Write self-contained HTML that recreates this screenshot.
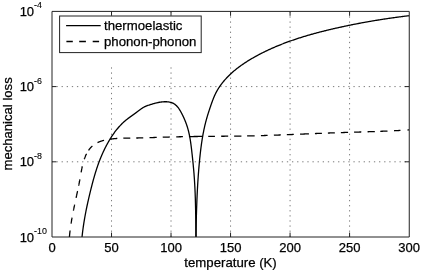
<!DOCTYPE html>
<html><head><meta charset="utf-8"><style>
html,body{margin:0;padding:0;background:#fff;width:422px;height:270px;overflow:hidden}
svg{display:block}
</style></head><body>
<svg width="422" height="270" viewBox="0 0 422 270">
<rect x="0" y="0" width="422" height="270" fill="#fff"/>
<g stroke="#7a7a7a" stroke-width="1" stroke-dasharray="1.3 3.8" stroke-dashoffset="0.15" fill="none"><line x1="111.52" y1="11.4" x2="111.52" y2="237.0"/><line x1="171.03" y1="11.4" x2="171.03" y2="237.0"/><line x1="230.55" y1="11.4" x2="230.55" y2="237.0"/><line x1="290.07" y1="11.4" x2="290.07" y2="237.0"/><line x1="349.58" y1="11.4" x2="349.58" y2="237.0"/></g>
<g stroke="#7a7a7a" stroke-width="1" stroke-dasharray="1.3 3.82" stroke-dashoffset="0.65" fill="none"><line x1="52.0" y1="86.60" x2="409.1" y2="86.60"/><line x1="52.0" y1="161.80" x2="409.1" y2="161.80"/></g>
<path d="M111.52,237.0V232.6M111.52,11.4V15.8M171.03,237.0V232.6M171.03,11.4V15.8M230.55,237.0V232.6M230.55,11.4V15.8M290.07,237.0V232.6M290.07,11.4V15.8M349.58,237.0V232.6M349.58,11.4V15.8M52.0,86.60H56.4M409.1,86.60H404.70000000000005M52.0,161.80H56.4M409.1,161.80H404.70000000000005" stroke="#222" stroke-width="1.0" fill="none"/>
<path d="M69.43,236.92 69.44,236.74 69.46,236.46 69.49,236.19 69.51,235.91 69.54,235.63 69.56,235.35 69.59,235.08 69.62,234.80 69.64,234.52 69.67,234.25 69.70,233.97 69.72,233.69 69.75,233.42 69.78,233.14 69.81,232.87 69.84,232.59 69.87,232.31 69.90,232.04 69.93,231.76 69.97,231.49 70.00,231.21 70.03,230.94 70.06,230.66 70.08,230.49 M71.02,223.72 71.05,223.55 71.09,223.27 71.14,223.00 71.18,222.73 71.22,222.46 71.27,222.18 71.31,221.91 71.36,221.64 71.40,221.37 71.45,221.10 71.49,220.82 71.54,220.55 71.58,220.28 71.63,220.01 71.68,219.74 71.72,219.47 71.77,219.20 71.82,218.92 71.87,218.65 71.91,218.38 71.96,218.11 72.01,217.84 72.04,217.67 M73.37,210.72 73.40,210.54 73.46,210.28 73.51,210.01 73.57,209.74 73.62,209.47 73.68,209.20 73.73,208.93 73.79,208.66 73.84,208.39 73.90,208.12 73.95,207.85 74.01,207.58 74.07,207.31 74.12,207.04 74.18,206.77 74.23,206.50 74.29,206.24 74.35,205.97 74.40,205.70 74.46,205.43 74.52,205.16 74.57,204.89 74.61,204.72 M76.10,197.80 76.13,197.63 76.19,197.36 76.25,197.09 76.31,196.83 76.37,196.56 76.42,196.29 76.48,196.02 76.54,195.75 76.60,195.48 76.66,195.21 76.71,194.94 76.77,194.67 76.83,194.41 76.89,194.14 76.95,193.87 77.00,193.60 77.06,193.33 77.12,193.06 77.18,192.79 77.23,192.52 77.29,192.25 77.35,191.98 77.41,191.71 77.46,191.44 77.52,191.18 77.56,191.00 M78.66,185.68 78.70,185.51 78.75,185.24 78.81,184.97 78.86,184.70 78.92,184.43 78.97,184.16 79.02,183.89 79.08,183.62 79.13,183.35 79.18,183.08 79.24,182.81 79.29,182.54 79.34,182.27 79.40,182.00 79.45,181.72 79.50,181.45 79.55,181.18 79.60,180.91 79.66,180.64 79.71,180.37 79.76,180.10 79.81,179.83 79.86,179.55 79.89,179.38 M81.13,172.38 81.16,172.20 81.21,171.93 81.26,171.66 81.31,171.38 81.36,171.11 81.41,170.84 81.46,170.57 81.51,170.29 81.56,170.02 81.61,169.75 81.66,169.48 81.71,169.20 81.76,168.93 81.82,168.66 81.87,168.39 81.92,168.12 81.98,167.85 82.04,167.57 82.09,167.30 82.15,167.03 82.21,166.76 82.27,166.49 82.30,166.32 M84.27,159.16 84.33,158.99 84.42,158.73 84.52,158.46 84.62,158.20 84.71,157.94 84.81,157.67 84.91,157.41 85.02,157.15 85.12,156.89 85.23,156.63 85.33,156.37 85.44,156.12 85.55,155.86 85.67,155.60 85.78,155.35 85.90,155.09 86.01,154.84 86.13,154.59 86.25,154.34 86.38,154.09 86.50,153.84 86.58,153.68 M88.50,150.43 88.60,150.28 88.75,150.06 88.91,149.84 89.07,149.62 89.23,149.40 89.40,149.18 89.56,148.97 89.73,148.76 89.90,148.55 90.07,148.34 90.24,148.13 90.42,147.93 90.60,147.73 90.78,147.53 90.96,147.34 91.14,147.14 91.33,146.95 91.52,146.76 91.71,146.58 91.90,146.39 92.10,146.21 92.30,146.04 92.42,145.93 M97.51,142.62 97.66,142.55 97.91,142.43 98.15,142.32 98.40,142.21 98.65,142.10 98.90,142.00 99.15,141.89 99.41,141.79 99.66,141.69 99.92,141.59 100.18,141.49 100.44,141.40 100.69,141.31 100.96,141.22 101.22,141.13 101.48,141.04 101.74,140.96 102.01,140.87 102.27,140.79 102.54,140.71 102.81,140.64 103.08,140.56 103.34,140.49 103.61,140.41 103.89,140.34 104.06,140.30 M110.05,139.14 110.23,139.12 110.50,139.08 110.78,139.04 111.06,139.01 111.34,138.97 111.61,138.94 111.89,138.91 112.17,138.87 112.45,138.84 112.72,138.81 113.00,138.78 113.28,138.76 113.55,138.73 113.83,138.70 114.11,138.68 114.38,138.65 114.66,138.63 114.94,138.61 115.21,138.58 115.49,138.56 115.77,138.54 116.04,138.52 116.32,138.50 116.60,138.49 116.87,138.47 117.15,138.45 117.33,138.44 M123.32,138.22 123.50,138.21 123.78,138.21 124.05,138.20 124.33,138.20 124.60,138.19 124.88,138.19 125.15,138.19 125.43,138.18 125.71,138.18 125.98,138.17 126.26,138.17 126.53,138.17 126.81,138.16 127.08,138.16 127.36,138.16 127.63,138.15 127.91,138.15 128.19,138.15 128.46,138.14 128.74,138.14 129.01,138.14 129.29,138.14 129.56,138.13 129.84,138.13 130.11,138.13 130.29,138.12 M136.28,138.02 136.45,138.02 136.73,138.01 137.00,138.01 137.28,138.00 137.55,137.99 137.83,137.99 138.10,137.98 138.38,137.97 138.65,137.97 138.93,137.96 139.21,137.95 139.48,137.95 139.76,137.94 140.03,137.93 140.31,137.93 140.58,137.92 140.86,137.91 141.13,137.90 141.41,137.90 141.69,137.89 141.96,137.88 142.24,137.87 142.51,137.87 142.79,137.86 143.06,137.85 143.24,137.85 M149.50,137.65 149.68,137.65 149.95,137.64 150.23,137.63 150.50,137.62 150.78,137.61 151.05,137.60 151.33,137.59 151.60,137.58 151.88,137.57 152.16,137.57 152.43,137.56 152.71,137.55 152.98,137.54 153.26,137.53 153.53,137.52 153.81,137.51 154.08,137.50 154.36,137.49 154.64,137.48 154.91,137.47 155.19,137.46 155.46,137.45 155.74,137.44 156.01,137.44 156.29,137.43 156.56,137.42 156.74,137.41 M162.73,137.21 162.90,137.20 163.18,137.20 163.45,137.19 163.73,137.18 164.01,137.17 164.28,137.16 164.56,137.15 164.83,137.14 165.11,137.13 165.38,137.13 165.66,137.12 165.94,137.11 166.21,137.10 166.49,137.09 166.76,137.08 167.04,137.07 167.31,137.07 167.59,137.06 167.86,137.05 168.14,137.04 168.42,137.03 168.69,137.03 168.97,137.02 169.24,137.01 169.52,137.00 169.69,137.00 M176.24,136.83 176.41,136.83 176.69,136.82 176.96,136.81 177.24,136.81 177.51,136.80 177.79,136.80 178.07,136.79 178.34,136.78 178.62,136.78 178.89,136.77 179.17,136.77 179.44,136.76 179.72,136.75 180.00,136.75 180.27,136.74 180.55,136.74 180.82,136.73 181.10,136.73 181.37,136.72 181.65,136.72 181.93,136.71 182.20,136.71 182.48,136.70 182.75,136.70 182.93,136.69 M188.92,136.59 189.10,136.59 189.37,136.59 189.65,136.58 189.92,136.58 190.20,136.57 190.48,136.57 190.75,136.57 191.03,136.56 191.30,136.56 191.58,136.55 191.85,136.55 192.13,136.55 192.41,136.54 192.68,136.54 192.96,136.53 193.23,136.53 193.51,136.53 193.78,136.52 194.06,136.52 194.34,136.52 194.61,136.51 194.89,136.51 195.16,136.51 195.44,136.50 195.72,136.50 195.99,136.50 196.27,136.49 196.54,136.49 196.82,136.49 197.09,136.48 197.37,136.48 197.65,136.48 197.92,136.47 198.20,136.47 198.47,136.47 198.75,136.46 199.03,136.46 199.30,136.46 199.58,136.46 199.85,136.45 200.13,136.45 200.40,136.45 200.68,136.44 200.96,136.44 201.23,136.44 201.51,136.43 201.78,136.43 202.06,136.43 202.34,136.43 202.51,136.42 M208.23,136.37 208.40,136.37 208.68,136.37 208.96,136.36 209.23,136.36 209.51,136.36 209.78,136.36 210.06,136.35 210.34,136.35 210.61,136.35 210.89,136.35 211.16,136.34 211.44,136.34 211.72,136.34 211.99,136.34 212.27,136.33 212.54,136.33 212.82,136.33 213.09,136.33 213.37,136.32 213.65,136.32 213.92,136.32 214.20,136.32 214.47,136.31 214.75,136.31 214.93,136.31 M221.20,136.26 221.37,136.25 221.65,136.25 221.92,136.25 222.20,136.25 222.47,136.24 222.75,136.24 223.03,136.24 223.30,136.24 223.58,136.23 223.85,136.23 224.13,136.23 224.41,136.23 224.68,136.22 224.96,136.22 225.23,136.22 225.51,136.22 225.78,136.21 226.06,136.21 226.34,136.21 226.61,136.20 226.89,136.20 227.16,136.20 227.44,136.20 227.72,136.19 227.99,136.19 228.17,136.19 M234.16,136.12 234.34,136.12 234.61,136.12 234.89,136.11 235.16,136.11 235.44,136.11 235.72,136.10 235.99,136.10 236.27,136.10 236.54,136.09 236.82,136.09 237.09,136.09 237.37,136.08 237.65,136.08 237.92,136.07 238.20,136.07 238.47,136.07 238.75,136.06 239.03,136.06 239.30,136.05 239.58,136.05 239.85,136.05 240.13,136.04 240.40,136.04 240.68,136.03 240.96,136.03 241.23,136.03 241.41,136.02 M247.12,135.93 247.30,135.93 247.58,135.92 247.85,135.91 248.13,135.91 248.40,135.90 248.68,135.90 248.95,135.89 249.23,135.89 249.51,135.88 249.78,135.88 250.06,135.87 250.33,135.87 250.61,135.86 250.89,135.85 251.16,135.85 251.44,135.84 251.71,135.84 251.99,135.83 252.26,135.83 252.54,135.82 252.82,135.81 253.09,135.81 253.37,135.80 253.64,135.79 253.92,135.79 254.19,135.78 254.47,135.78 254.65,135.77 M260.91,135.61 261.09,135.61 261.36,135.60 261.64,135.59 261.91,135.58 262.19,135.57 262.47,135.57 262.74,135.56 263.02,135.55 263.29,135.54 263.57,135.53 263.84,135.53 264.12,135.52 264.40,135.51 264.67,135.50 264.95,135.49 265.22,135.48 265.50,135.48 265.77,135.47 266.05,135.46 266.33,135.45 266.60,135.44 266.88,135.43 267.15,135.42 267.43,135.42 267.60,135.41 M273.87,135.20 274.04,135.19 274.32,135.18 274.60,135.17 274.87,135.16 275.15,135.15 275.42,135.14 275.70,135.13 275.97,135.12 276.25,135.11 276.53,135.10 276.80,135.09 277.08,135.08 277.35,135.07 277.63,135.06 277.90,135.05 278.18,135.04 278.45,135.03 278.73,135.02 279.01,135.01 279.28,135.00 279.56,134.99 279.83,134.98 280.11,134.97 280.38,134.96 280.66,134.95 280.84,134.94 M286.82,134.71 287.00,134.71 287.27,134.69 287.55,134.68 287.83,134.67 288.10,134.66 288.38,134.65 288.65,134.64 288.93,134.63 289.20,134.62 289.48,134.61 289.75,134.59 290.03,134.58 290.31,134.57 290.58,134.56 290.86,134.55 291.13,134.54 291.41,134.53 291.68,134.52 291.96,134.51 292.23,134.49 292.51,134.48 292.79,134.47 293.06,134.46 293.34,134.45 293.61,134.44 293.79,134.43 M300.05,134.17 300.23,134.16 300.50,134.15 300.78,134.14 301.05,134.13 301.33,134.12 301.61,134.11 301.88,134.09 302.16,134.08 302.43,134.07 302.71,134.06 302.98,134.05 303.26,134.04 303.53,134.03 303.81,134.01 304.09,134.00 304.36,133.99 304.64,133.98 304.91,133.97 305.19,133.96 305.46,133.95 305.74,133.93 306.01,133.92 306.29,133.91 306.57,133.90 306.84,133.89 307.12,133.88 307.39,133.86 307.67,133.85 307.94,133.84 308.22,133.83 308.49,133.82 308.77,133.81 308.95,133.80 M314.93,133.55 315.11,133.55 315.39,133.54 315.66,133.52 315.94,133.51 316.21,133.50 316.49,133.49 316.76,133.48 317.04,133.47 317.31,133.46 317.59,133.45 317.87,133.44 318.14,133.42 318.42,133.41 318.69,133.40 318.97,133.39 319.24,133.38 319.52,133.37 319.79,133.36 320.07,133.35 320.35,133.34 320.62,133.33 320.90,133.32 321.17,133.30 321.45,133.29 321.72,133.28 321.90,133.28 M327.89,133.05 328.06,133.04 328.34,133.03 328.62,133.02 328.89,133.01 329.17,133.00 329.44,132.99 329.72,132.98 329.99,132.97 330.27,132.96 330.55,132.95 330.82,132.94 331.10,132.93 331.37,132.92 331.65,132.91 331.92,132.90 332.20,132.89 332.47,132.88 332.75,132.87 333.03,132.86 333.30,132.85 333.58,132.84 333.85,132.84 334.13,132.83 334.40,132.82 334.68,132.81 334.86,132.80 M340.85,132.60 341.02,132.60 341.30,132.59 341.57,132.58 341.85,132.57 342.12,132.56 342.40,132.55 342.68,132.54 342.95,132.53 343.23,132.53 343.50,132.52 343.78,132.51 344.05,132.50 344.33,132.49 344.61,132.48 344.88,132.47 345.16,132.47 345.43,132.46 345.71,132.45 345.98,132.44 346.26,132.43 346.54,132.42 346.81,132.41 347.09,132.41 347.36,132.40 347.64,132.39 347.91,132.38 348.09,132.37 M354.08,132.19 354.26,132.18 354.53,132.18 354.81,132.17 355.08,132.16 355.36,132.15 355.63,132.14 355.91,132.13 356.19,132.13 356.46,132.12 356.74,132.11 357.01,132.10 357.29,132.09 357.56,132.08 357.84,132.07 358.12,132.07 358.39,132.06 358.67,132.05 358.94,132.04 359.22,132.03 359.49,132.02 359.77,132.01 360.05,132.01 360.32,132.00 360.60,131.99 360.87,131.98 361.15,131.97 361.32,131.97 M367.59,131.77 367.77,131.76 368.04,131.75 368.32,131.74 368.59,131.73 368.87,131.72 369.14,131.71 369.42,131.71 369.70,131.70 369.97,131.69 370.25,131.68 370.52,131.67 370.80,131.66 371.07,131.65 371.35,131.64 371.63,131.63 371.90,131.62 372.18,131.61 372.45,131.60 372.73,131.59 373.00,131.58 373.28,131.57 373.56,131.57 373.83,131.56 374.11,131.55 374.38,131.54 374.66,131.53 374.83,131.52 M380.27,131.32 380.45,131.31 380.72,131.30 381.00,131.29 381.27,131.28 381.55,131.27 381.83,131.26 382.10,131.25 382.38,131.24 382.65,131.23 382.93,131.22 383.20,131.21 383.48,131.20 383.75,131.19 384.03,131.17 384.31,131.16 384.58,131.15 384.86,131.14 385.13,131.13 385.41,131.12 385.68,131.11 385.96,131.10 386.23,131.08 386.51,131.07 386.79,131.06 387.06,131.05 387.34,131.04 387.51,131.03 M394.05,130.74 394.23,130.73 394.50,130.72 394.78,130.70 395.05,130.69 395.33,130.68 395.60,130.66 395.88,130.65 396.16,130.64 396.43,130.62 396.71,130.61 396.98,130.60 397.26,130.58 397.53,130.57 397.81,130.55 398.08,130.54 398.36,130.53 398.63,130.51 398.91,130.50 399.19,130.48 399.46,130.47 399.74,130.46 400.01,130.44 400.29,130.43 400.46,130.42 M407.55,130.02 407.72,130.01 408.00,129.99 408.28,129.97 408.55,129.96 408.83,129.94 409.00,129.93" fill="none" stroke="#000" stroke-width="1.3"/>
<path d="M82.03,237.02 82.10,236.38 82.16,235.74 82.23,235.10 82.30,234.46 82.38,233.82 82.45,233.19 82.53,232.55 82.61,231.91 82.68,231.28 82.77,230.64 82.85,230.01 82.93,229.37 83.02,228.74 83.10,228.11 83.19,227.47 83.28,226.84 83.37,226.21 83.47,225.57 83.56,224.94 83.66,224.31 83.75,223.68 83.85,223.05 83.95,222.42 84.05,221.79 84.15,221.16 84.26,220.53 84.36,219.90 84.47,219.27 84.58,218.64 84.69,218.01 84.80,217.39 84.91,216.76 85.02,216.13 85.14,215.50 85.25,214.88 85.37,214.25 85.49,213.62 85.61,213.00 85.73,212.37 85.85,211.75 85.97,211.12 86.09,210.49 86.22,209.87 86.34,209.24 86.47,208.62 86.60,208.00 86.73,207.37 86.86,206.75 86.99,206.12 87.12,205.50 87.26,204.88 87.39,204.25 87.53,203.63 87.66,203.01 87.80,202.38 87.94,201.76 88.08,201.14 88.22,200.52 88.36,199.90 88.50,199.27 88.64,198.65 88.79,198.03 88.93,197.41 89.08,196.79 89.22,196.16 89.37,195.54 89.52,194.92 89.67,194.30 89.82,193.68 89.97,193.06 90.12,192.44 90.27,191.82 90.42,191.20 90.57,190.57 90.73,189.95 90.88,189.33 91.04,188.71 91.19,188.09 91.35,187.47 91.51,186.85 91.67,186.23 91.82,185.61 91.98,184.99 92.15,184.37 92.31,183.75 92.47,183.13 92.64,182.51 92.80,181.89 92.97,181.28 93.13,180.66 93.30,180.04 93.47,179.42 93.65,178.81 93.82,178.19 93.99,177.57 94.17,176.96 94.34,176.34 94.52,175.73 94.70,175.11 94.88,174.50 95.07,173.89 95.25,173.28 95.44,172.66 95.63,172.05 95.82,171.44 96.01,170.84 96.20,170.23 96.40,169.62 96.59,169.01 96.79,168.41 96.99,167.80 97.20,167.20 97.40,166.59 97.61,165.99 97.82,165.39 98.03,164.79 98.24,164.19 98.46,163.59 98.68,162.99 98.90,162.39 99.12,161.80 99.34,161.20 99.57,160.61 99.80,160.02 100.03,159.43 100.27,158.84 100.51,158.25 100.74,157.66 100.99,157.07 101.23,156.49 101.48,155.90 101.73,155.32 101.98,154.74 102.24,154.15 102.49,153.57 102.75,152.99 103.02,152.42 103.28,151.84 103.55,151.26 103.82,150.69 104.10,150.12 104.37,149.54 104.65,148.97 104.93,148.40 105.22,147.83 105.51,147.26 105.80,146.70 106.09,146.13 106.39,145.56 106.69,145.00 106.99,144.44 107.30,143.88 107.60,143.31 107.92,142.76 108.23,142.20 108.55,141.64 108.87,141.09 109.19,140.53 109.52,139.98 109.85,139.43 110.19,138.88 110.52,138.34 110.87,137.80 111.21,137.25 111.56,136.71 111.91,136.18 112.26,135.64 112.62,135.11 112.98,134.58 113.35,134.06 113.72,133.53 114.09,133.01 114.47,132.49 114.85,131.98 115.23,131.47 115.62,130.96 116.01,130.45 116.41,129.95 116.81,129.45 117.22,128.96 117.62,128.47 118.04,127.98 118.45,127.50 118.87,127.02 119.30,126.54 119.73,126.07 120.16,125.60 120.60,125.14 121.04,124.68 121.48,124.23 121.93,123.78 122.39,123.34 122.85,122.90 123.31,122.46 123.78,122.03 124.25,121.60 124.73,121.18 125.21,120.77 125.70,120.36 126.19,119.95 126.69,119.56 127.19,119.16 127.69,118.77 128.20,118.39 128.71,118.00 129.23,117.63 129.75,117.25 130.26,116.87 130.78,116.50 131.31,116.13 131.83,115.76 132.35,115.39 132.87,115.02 133.39,114.64 133.91,114.27 134.43,113.90 134.95,113.52 135.47,113.14 135.98,112.75 136.49,112.37 137.00,111.98 137.51,111.59 138.01,111.20 138.52,110.80 139.03,110.42 139.54,110.03 140.05,109.65 140.56,109.28 141.08,108.91 141.61,108.55 142.14,108.20 142.67,107.87 143.21,107.54 143.77,107.23 144.33,106.93 144.90,106.65 145.48,106.39 146.07,106.14 146.66,105.90 147.27,105.68 147.87,105.47 148.48,105.26 149.10,105.06 149.71,104.86 150.32,104.66 150.93,104.47 151.54,104.28 152.15,104.09 152.76,103.90 153.37,103.72 153.98,103.55 154.59,103.38 155.20,103.21 155.81,103.06 156.43,102.90 157.05,102.76 157.66,102.62 158.28,102.49 158.91,102.37 159.53,102.26 160.16,102.16 160.79,102.07 161.42,101.98 162.06,101.91 162.70,101.85 163.35,101.81 164.00,101.77 164.65,101.75 165.31,101.74 165.96,101.74 166.62,101.76 167.27,101.80 167.92,101.86 168.57,101.94 169.21,102.04 169.84,102.16 170.46,102.30 171.07,102.46 171.66,102.66 172.25,102.87 172.81,103.12 173.36,103.39 173.89,103.69 174.41,104.02 174.91,104.37 175.39,104.75 175.86,105.15 176.31,105.57 176.75,106.01 177.17,106.47 177.59,106.95 177.99,107.44 178.38,107.95 178.75,108.47 179.12,109.00 179.48,109.55 179.83,110.10 180.17,110.66 180.50,111.23 180.82,111.81 181.14,112.38 181.45,112.97 181.76,113.55 182.06,114.13 182.35,114.72 182.64,115.30 182.93,115.88 183.21,116.47 183.48,117.05 183.75,117.64 184.02,118.23 184.28,118.81 184.53,119.40 184.78,119.99 185.03,120.58 185.27,121.17 185.50,121.76 185.73,122.35 185.95,122.95 186.17,123.54 186.39,124.14 186.60,124.73 186.80,125.33 187.00,125.93 187.20,126.53 187.39,127.13 187.57,127.74 187.75,128.34 187.92,128.95 188.09,129.56 188.26,130.17 188.41,130.78 188.57,131.40 188.72,132.01 188.86,132.63 189.01,133.25 189.14,133.87 189.28,134.49 189.40,135.11 189.53,135.74 189.65,136.36 189.77,136.99 189.88,137.61 190.00,138.24 190.10,138.87 190.21,139.50 190.31,140.13 190.41,140.77 190.51,141.40 190.60,142.03 190.69,142.67 190.78,143.30 190.87,143.94 190.96,144.57 191.04,145.21 191.12,145.84 191.20,146.48 191.28,147.12 191.36,147.75 191.44,148.39 191.51,149.03 191.59,149.67 191.66,150.30 191.74,150.94 191.81,151.58 191.88,152.22 191.95,152.85 192.02,153.49 192.09,154.13 192.17,154.76 192.24,155.40 192.30,156.03 192.37,156.67 192.44,157.31 192.51,157.94 192.58,158.58 192.65,159.21 192.71,159.85 192.78,160.48 192.84,161.12 192.91,161.75 192.97,162.39 193.04,163.02 193.10,163.66 193.16,164.29 193.22,164.93 193.28,165.56 193.34,166.20 193.40,166.83 193.46,167.47 193.52,168.10 193.58,168.74 193.63,169.37 193.69,170.01 193.74,170.64 193.80,171.28 193.85,171.91 193.90,172.55 193.96,173.18 194.01,173.82 194.06,174.45 194.11,175.09 194.15,175.72 194.20,176.36 194.25,177.00 194.29,177.63 194.34,178.27 194.38,178.90 194.42,179.54 194.46,180.18 194.50,180.81 194.54,181.45 194.58,182.09 194.62,182.72 194.66,183.36 194.69,184.00 194.73,184.64 194.76,185.27 194.80,185.91 194.83,186.55 194.86,187.19 194.90,187.82 194.93,188.46 194.96,189.10 194.99,189.74 195.01,190.37 195.04,191.01 195.07,191.65 195.10,192.29 195.12,192.93 195.15,193.57 195.17,194.21 195.20,194.84 195.22,195.48 195.24,196.12 195.26,196.76 195.29,197.40 195.31,198.04 195.33,198.68 195.35,199.32 195.37,199.95 195.39,200.59 195.40,201.23 195.42,201.87 195.44,202.51 195.46,203.15 195.47,203.79 195.49,204.43 195.50,205.07 195.52,205.71 195.53,206.35 195.55,206.99 195.56,207.62 195.58,208.26 195.59,208.90 195.60,209.54 195.62,210.18 195.63,210.82 195.64,211.46 195.65,212.10 195.66,212.74 195.68,213.38 195.69,214.02 195.70,214.66 195.71,215.30 195.72,215.93 195.73,216.57 195.74,217.21 195.75,217.85 195.76,218.49 195.77,219.13 195.78,219.77 195.79,220.41 195.80,221.05 195.80,221.69 195.81,222.32 195.82,222.96 195.83,223.60 195.84,224.24 195.85,224.88 195.86,225.52 195.87,226.15 195.87,226.79 195.88,227.43 195.89,228.07 195.90,228.71 195.91,229.35 195.92,229.98 195.93,230.62 195.94,231.26 195.94,231.90 195.95,232.53 195.96,233.17 195.97,233.81 195.98,234.45 195.99,235.08 196.00,235.72 196.01,236.36 196.02,236.99" fill="none" stroke="#000" stroke-width="1.3" stroke-linejoin="round"/>
<path d="M195.95,236.99 195.97,236.27 195.98,235.55 195.99,234.82 196.00,234.10 196.01,233.38 196.03,232.66 196.04,231.94 196.05,231.21 196.06,230.49 196.08,229.77 196.09,229.05 196.10,228.33 196.12,227.60 196.13,226.88 196.15,226.16 196.16,225.44 196.18,224.71 196.19,223.99 196.21,223.27 196.22,222.55 196.24,221.82 196.26,221.10 196.27,220.38 196.29,219.65 196.31,218.93 196.33,218.21 196.34,217.48 196.36,216.76 196.38,216.04 196.40,215.32 196.42,214.59 196.44,213.87 196.46,213.15 196.48,212.42 196.50,211.70 196.53,210.98 196.55,210.25 196.57,209.53 196.60,208.81 196.62,208.08 196.64,207.36 196.67,206.64 196.69,205.91 196.72,205.19 196.75,204.47 196.77,203.74 196.80,203.02 196.83,202.30 196.86,201.57 196.88,200.85 196.91,200.13 196.94,199.40 196.97,198.68 197.00,197.96 197.04,197.23 197.07,196.51 197.10,195.79 197.13,195.07 197.17,194.34 197.20,193.62 197.24,192.90 197.27,192.17 197.31,191.45 197.35,190.73 197.38,190.00 197.42,189.28 197.46,188.56 197.50,187.84 197.54,187.11 197.58,186.39 197.62,185.67 197.66,184.95 197.71,184.22 197.75,183.50 197.80,182.78 197.84,182.06 197.89,181.33 197.93,180.61 197.98,179.89 198.03,179.17 198.08,178.44 198.13,177.72 198.18,177.00 198.23,176.28 198.28,175.56 198.33,174.84 198.38,174.11 198.44,173.39 198.49,172.67 198.55,171.95 198.61,171.23 198.66,170.51 198.72,169.79 198.78,169.06 198.84,168.34 198.90,167.62 198.96,166.90 199.03,166.18 199.09,165.46 199.15,164.74 199.22,164.02 199.29,163.30 199.35,162.58 199.42,161.86 199.49,161.14 199.56,160.42 199.63,159.70 199.70,158.98 199.77,158.26 199.85,157.54 199.92,156.82 200.00,156.10 200.07,155.38 200.15,154.67 200.23,153.95 200.31,153.23 200.39,152.51 200.48,151.79 200.56,151.07 200.64,150.36 200.73,149.64 200.82,148.92 200.91,148.21 201.00,147.49 201.10,146.77 201.19,146.06 201.29,145.34 201.38,144.63 201.49,143.91 201.59,143.20 201.69,142.48 201.80,141.77 201.90,141.05 202.01,140.34 202.13,139.63 202.24,138.91 202.36,138.20 202.48,137.49 202.60,136.78 202.72,136.07 202.85,135.36 202.97,134.65 203.10,133.94 203.24,133.23 203.37,132.52 203.51,131.81 203.65,131.10 203.79,130.39 203.94,129.69 204.09,128.98 204.24,128.28 204.40,127.57 204.55,126.87 204.71,126.16 204.88,125.46 205.04,124.76 205.21,124.05 205.39,123.35 205.56,122.65 205.74,121.95 205.92,121.25 206.11,120.55 206.30,119.85 206.49,119.15 206.69,118.46 206.89,117.76 207.09,117.06 207.29,116.37 207.50,115.68 207.71,114.98 207.93,114.29 208.15,113.60 208.36,112.90 208.59,112.21 208.81,111.52 209.03,110.83 209.26,110.14 209.49,109.45 209.72,108.76 209.95,108.07 210.18,107.39 210.42,106.70 210.65,106.01 210.89,105.33 211.13,104.64 211.36,103.96 211.61,103.27 211.85,102.59 212.09,101.91 212.34,101.23 212.59,100.55 212.85,99.88 213.11,99.20 213.38,98.53 213.65,97.86 213.92,97.20 214.20,96.54 214.49,95.87 214.78,95.22 215.08,94.56 215.39,93.91 215.71,93.27 216.03,92.63 216.36,91.99 216.70,91.35 217.05,90.72 217.41,90.10 217.78,89.48 218.15,88.86 218.54,88.25 218.93,87.65 219.33,87.04 219.73,86.45 220.15,85.85 220.57,85.26 220.99,84.68 221.42,84.10 221.86,83.53 222.31,82.96 222.76,82.39 223.21,81.83 223.67,81.28 224.14,80.72 224.61,80.18 225.09,79.64 225.57,79.10 226.05,78.57 226.54,78.04 227.04,77.52 227.53,77.00 228.04,76.48 228.55,75.97 229.06,75.46 229.57,74.96 230.09,74.47 230.62,73.97 231.15,73.48 231.68,73.00 232.22,72.52 232.76,72.04 233.30,71.57 233.85,71.10 234.40,70.63 234.96,70.17 235.51,69.71 236.08,69.26 236.64,68.81 237.21,68.36 237.78,67.92 238.36,67.48 238.94,67.05 239.52,66.61 240.10,66.19 240.69,65.76 241.28,65.34 241.87,64.92 242.47,64.51 243.06,64.10 243.66,63.69 244.27,63.28 244.87,62.88 245.48,62.48 246.09,62.09 246.70,61.70 247.32,61.31 247.93,60.92 248.55,60.54 249.17,60.16 249.79,59.78 250.42,59.41 251.04,59.04 251.67,58.67 252.30,58.30 252.93,57.94 253.56,57.58 254.19,57.22 254.83,56.86 255.46,56.51 256.10,56.16 256.74,55.81 257.38,55.47 258.02,55.13 258.66,54.78 259.30,54.45 259.94,54.11 260.59,53.78 261.23,53.45 261.88,53.12 262.52,52.79 263.17,52.47 263.82,52.14 264.47,51.82 265.12,51.51 265.77,51.19 266.42,50.88 267.08,50.57 267.73,50.26 268.39,49.95 269.04,49.65 269.70,49.35 270.36,49.05 271.02,48.75 271.68,48.45 272.34,48.16 273.00,47.87 273.66,47.58 274.32,47.29 274.98,47.01 275.65,46.72 276.31,46.44 276.98,46.16 277.65,45.89 278.31,45.61 278.98,45.34 279.65,45.07 280.32,44.80 280.99,44.53 281.66,44.26 282.33,44.00 283.01,43.74 283.68,43.48 284.36,43.22 285.03,42.96 285.71,42.71 286.38,42.46 287.06,42.21 287.74,41.96 288.41,41.71 289.09,41.46 289.77,41.22 290.45,40.98 291.13,40.74 291.81,40.50 292.50,40.26 293.18,40.03 293.86,39.79 294.55,39.56 295.23,39.33 295.92,39.10 296.60,38.87 297.29,38.65 297.97,38.42 298.66,38.20 299.35,37.98 300.04,37.76 300.73,37.54 301.42,37.32 302.11,37.11 302.80,36.90 303.49,36.68 304.18,36.47 304.87,36.26 305.56,36.06 306.26,35.85 306.95,35.64 307.64,35.44 308.34,35.24 309.03,35.04 309.73,34.84 310.42,34.64 311.12,34.44 311.81,34.25 312.51,34.05 313.21,33.86 313.91,33.66 314.60,33.47 315.30,33.28 316.00,33.10 316.70,32.91 317.40,32.72 318.10,32.54 318.80,32.35 319.50,32.17 320.20,31.99 320.90,31.81 321.60,31.63 322.30,31.45 323.01,31.27 323.71,31.10 324.41,30.92 325.11,30.75 325.82,30.57 326.52,30.40 327.22,30.23 327.93,30.06 328.63,29.89 329.33,29.72 330.04,29.55 330.74,29.39 331.45,29.22 332.15,29.06 332.86,28.89 333.56,28.73 334.27,28.57 334.97,28.40 335.68,28.24 336.39,28.08 337.09,27.92 337.80,27.77 338.50,27.61 339.21,27.45 339.92,27.30 340.63,27.14 341.33,26.99 342.04,26.83 342.75,26.68 343.45,26.53 344.16,26.38 344.87,26.23 345.58,26.08 346.29,25.93 346.99,25.78 347.70,25.63 348.41,25.48 349.12,25.34 349.83,25.19 350.54,25.05 351.25,24.91 351.96,24.76 352.66,24.62 353.37,24.48 354.08,24.34 354.79,24.20 355.50,24.06 356.21,23.92 356.92,23.78 357.63,23.65 358.34,23.51 359.06,23.38 359.77,23.24 360.48,23.11 361.19,22.98 361.90,22.84 362.61,22.71 363.32,22.58 364.03,22.45 364.74,22.32 365.46,22.19 366.17,22.07 366.88,21.94 367.59,21.81 368.30,21.69 369.02,21.56 369.73,21.44 370.44,21.32 371.16,21.19 371.87,21.07 372.58,20.95 373.29,20.83 374.01,20.71 374.72,20.59 375.43,20.47 376.15,20.36 376.86,20.24 377.58,20.12 378.29,20.01 379.00,19.89 379.72,19.78 380.43,19.67 381.15,19.55 381.86,19.44 382.57,19.33 383.29,19.22 384.00,19.11 384.72,19.00 385.43,18.89 386.15,18.79 386.86,18.68 387.58,18.57 388.30,18.47 389.01,18.36 389.73,18.26 390.44,18.15 391.16,18.05 391.87,17.95 392.59,17.85 393.31,17.75 394.02,17.65 394.74,17.55 395.45,17.45 396.17,17.35 396.89,17.26 397.60,17.16 398.32,17.06 399.04,16.97 399.75,16.87 400.47,16.78 401.19,16.69 401.91,16.59 402.62,16.50 403.34,16.41 404.06,16.32 404.78,16.23 405.49,16.14 406.21,16.05 406.93,15.97 407.65,15.88 408.36,15.79 409.08,15.71" fill="none" stroke="#000" stroke-width="1.3" stroke-linejoin="round"/>
<path d="M52.0,11.4H409.25V237.0H52.0Z" fill="none" stroke="#222" stroke-width="1.0" stroke-linejoin="miter"/>
<rect x="59.6" y="16.0" width="141.60" height="48.60" fill="#fff"/>
<rect x="59.6" y="16.0" width="141.60" height="36.60" fill="#fff" stroke="#222" stroke-width="1.0"/>
<path d="M66.1,25.7H100.7" stroke="#000" stroke-width="1.3"/>
<path d="M66.4,41.5H72.8M79.2,41.5H85.9M92.7,41.5H99.1" stroke="#000" stroke-width="1.3"/>
<text x="104" y="30.2" font-family='"Liberation Sans", Arial, Helvetica, sans-serif' font-size="13.2" fill="#000" stroke="#000" stroke-width="0.25">thermoelastic</text>
<text x="104" y="46.2" font-family='"Liberation Sans", Arial, Helvetica, sans-serif' font-size="13.2" fill="#000" stroke="#000" stroke-width="0.25">phonon-phonon</text>
<text x="52.00" y="252.3" text-anchor="middle" font-family='"Liberation Sans", Arial, Helvetica, sans-serif' font-size="13" fill="#000" stroke="#000" stroke-width="0.25">0</text>
<text x="111.52" y="252.3" text-anchor="middle" font-family='"Liberation Sans", Arial, Helvetica, sans-serif' font-size="13" fill="#000" stroke="#000" stroke-width="0.25">50</text>
<text x="171.03" y="252.3" text-anchor="middle" font-family='"Liberation Sans", Arial, Helvetica, sans-serif' font-size="13" fill="#000" stroke="#000" stroke-width="0.25">100</text>
<text x="230.55" y="252.3" text-anchor="middle" font-family='"Liberation Sans", Arial, Helvetica, sans-serif' font-size="13" fill="#000" stroke="#000" stroke-width="0.25">150</text>
<text x="290.07" y="252.3" text-anchor="middle" font-family='"Liberation Sans", Arial, Helvetica, sans-serif' font-size="13" fill="#000" stroke="#000" stroke-width="0.25">200</text>
<text x="349.58" y="252.3" text-anchor="middle" font-family='"Liberation Sans", Arial, Helvetica, sans-serif' font-size="13" fill="#000" stroke="#000" stroke-width="0.25">250</text>
<text x="409.10" y="252.3" text-anchor="middle" font-family='"Liberation Sans", Arial, Helvetica, sans-serif' font-size="13" fill="#000" stroke="#000" stroke-width="0.25">300</text>
<text x="34.1" y="16" text-anchor="end" font-family='"Liberation Sans", Arial, Helvetica, sans-serif' font-size="13" fill="#000" stroke="#000" stroke-width="0.25">10</text>
<text x="34.0" y="8" font-family='"Liberation Sans", Arial, Helvetica, sans-serif' font-size="8.9" fill="#000" stroke="#000" stroke-width="0.1">-4</text>
<text x="34.1" y="91" text-anchor="end" font-family='"Liberation Sans", Arial, Helvetica, sans-serif' font-size="13" fill="#000" stroke="#000" stroke-width="0.25">10</text>
<text x="34.0" y="84" font-family='"Liberation Sans", Arial, Helvetica, sans-serif' font-size="8.9" fill="#000" stroke="#000" stroke-width="0.1">-6</text>
<text x="34.1" y="166" text-anchor="end" font-family='"Liberation Sans", Arial, Helvetica, sans-serif' font-size="13" fill="#000" stroke="#000" stroke-width="0.25">10</text>
<text x="34.0" y="159" font-family='"Liberation Sans", Arial, Helvetica, sans-serif' font-size="8.9" fill="#000" stroke="#000" stroke-width="0.1">-8</text>
<text x="34.1" y="242" text-anchor="end" font-family='"Liberation Sans", Arial, Helvetica, sans-serif' font-size="13" fill="#000" stroke="#000" stroke-width="0.25">10</text>
<text x="34.0" y="234" font-family='"Liberation Sans", Arial, Helvetica, sans-serif' font-size="8.9" fill="#000" stroke="#000" stroke-width="0.1">-10</text>
<text x="230.55" y="266.6" text-anchor="middle" font-family='"Liberation Sans", Arial, Helvetica, sans-serif' font-size="13.2" fill="#000" stroke="#000" stroke-width="0.25">temperature (K)</text>
<text transform="translate(11.5,123.90) rotate(-90)" text-anchor="middle" font-family='"Liberation Sans", Arial, Helvetica, sans-serif' font-size="13.1" fill="#000" stroke="#000" stroke-width="0.25">mechanical loss</text>
</svg>
</body></html>
